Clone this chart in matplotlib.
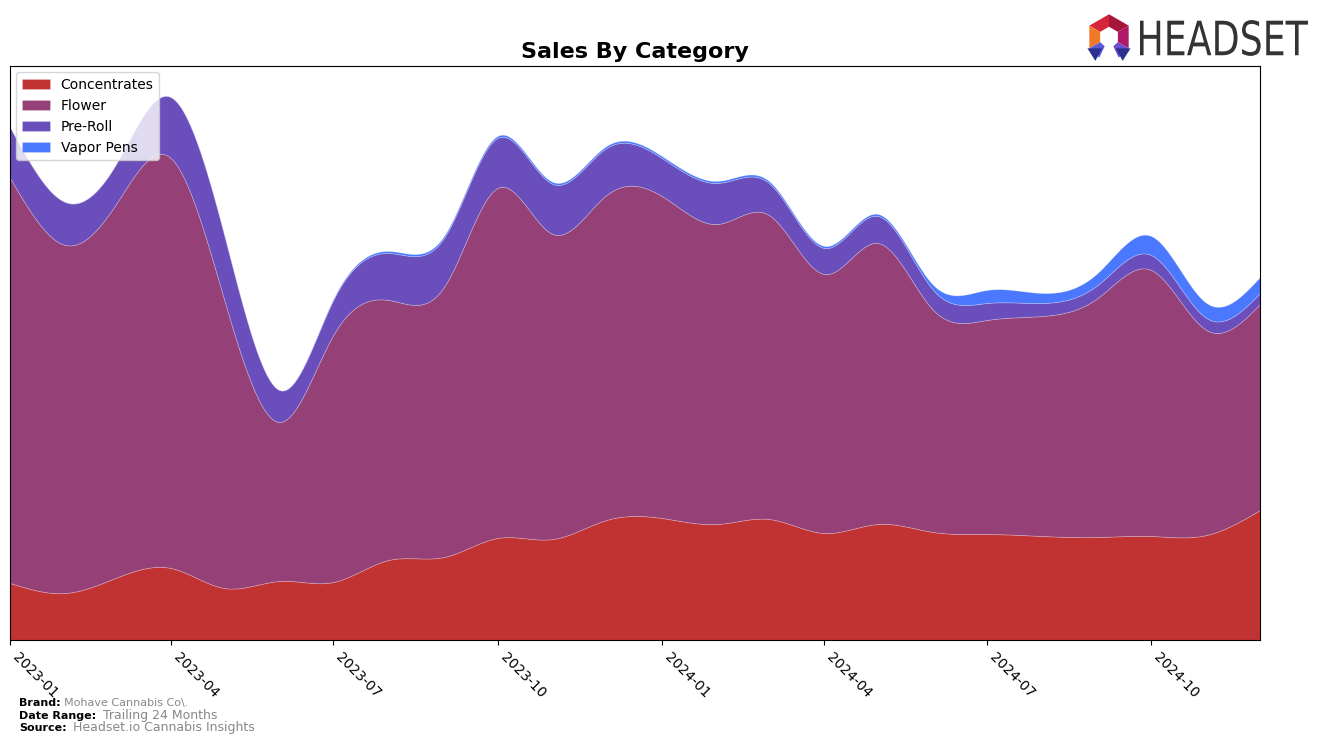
import numpy as np
import pandas as pd
import matplotlib
matplotlib.use("Agg")
import matplotlib.pyplot as plt
import matplotlib.dates as mdates
from matplotlib.textpath import TextPath
from matplotlib.patches import PathPatch, Polygon
from matplotlib.font_manager import FontProperties
from matplotlib.transforms import Affine2D

# ---------------- data ----------------
months = pd.date_range("2023-01-01", periods=24, freq="MS")
categories = ["Concentrates", "Flower", "Pre-Roll", "Vapor Pens"]
concentrates = [57, 47, 62, 72, 52, 59, 58, 80, 83, 102, 101, 120,
                122, 116, 121, 107, 116, 108, 106, 104, 103, 104, 105, 130]
flower = [405, 348, 373, 410, 288, 159, 247, 260, 270, 350, 305, 325,
          322, 300, 304, 259, 281, 222, 214, 220, 239, 266, 205, 206]
pre_roll = [51, 43, 40, 61, 65, 32, 35, 47, 49, 50, 50, 47,
            38, 41, 32, 26, 27, 20, 17, 13, 13, 15, 12, 11]
vapor_pens = [0, 0, 0, 0, 0, 0, 1, 2, 2, 2, 2, 2,
              2, 2, 2, 2, 2, 5, 13, 10, 12, 19, 15, 16]
colors = ["#C13232", "#954077", "#6A4EBB", "#4A78FF"]


def natural_spline(x, y, xs):
    x = np.asarray(x, float)
    y = np.asarray(y, float)
    n = len(x)
    h = np.diff(x)
    A = np.zeros((n, n))
    b = np.zeros(n)
    A[0, 0] = 1
    A[-1, -1] = 1
    for i in range(1, n - 1):
        A[i, i - 1] = h[i - 1]
        A[i, i] = 2 * (h[i - 1] + h[i])
        A[i, i + 1] = h[i]
        b[i] = 3 * ((y[i + 1] - y[i]) / h[i] - (y[i] - y[i - 1]) / h[i - 1])
    c = np.linalg.solve(A, b)
    idx = np.clip(np.searchsorted(x, xs) - 1, 0, n - 2)
    dx = xs - x[idx]
    bb = (y[idx + 1] - y[idx]) / h[idx] - h[idx] * (2 * c[idx] + c[idx + 1]) / 3
    d = (c[idx + 1] - c[idx]) / (3 * h[idx])
    return y[idx] + bb * dx + c[idx] * dx ** 2 + d * dx ** 3


xnum = mdates.date2num(months)
xs = np.linspace(xnum[0], xnum[-1], 800)
series = [concentrates, flower, pre_roll, vapor_pens]
smooth = [np.clip(natural_spline(xnum, s, xs), 0, None) for s in series]

W, H = 1324, 745
fig = plt.figure(figsize=(W / 100, H / 100), dpi=100)
ax = fig.add_axes([10 / W, 1 - 640 / H, 1250 / W, 574 / H])

ax.stackplot(xs, *smooth, labels=categories, colors=colors,
             linewidth=0.6, edgecolor=(1, 1, 1, 0.25))

ax.set_xlim(xnum[0], xnum[-1])
ax.set_ylim(0, 574)
ax.set_yticks([])
ax.xaxis.set_major_locator(mdates.MonthLocator(bymonth=[1, 4, 7, 10]))
ax.xaxis.set_major_formatter(mdates.DateFormatter("%Y-%m"))
for lab in ax.get_xticklabels():
    lab.set_rotation(-45)
    lab.set_ha("left")
    lab.set_fontsize(10)

ax.set_title("Sales By Category", fontsize=16, fontweight="bold", pad=6)
ax.legend(loc="upper left", fontsize=10, framealpha=0.8, borderaxespad=0.45)

# footer
fig.text(19 / W, 1 - 703 / H, "Brand:", fontsize=8, fontweight="bold", va="center")
fig.text(64 / W, 1 - 703 / H, "Mohave Cannabis Co\\.", fontsize=8, color="#888888", va="center")
fig.text(19 / W, 1 - 716 / H, "Date Range:", fontsize=8, fontweight="bold", va="center")
fig.text(103 / W, 1 - 716 / H, "Trailing 24 Months", fontsize=9, color="#888888", va="center")
fig.text(19 / W, 1 - 728 / H, "Source:", fontsize=8, fontweight="bold", va="center")
fig.text(73 / W, 1 - 728 / H, "Headset.io Cannabis Insights", fontsize=9, color="#888888", va="center")

# logo text
lax = fig.add_axes([1140 / W, 1 - 57 / H, 168 / W, 38 / H])
lax.set_axis_off()
tp = TextPath((0, 0), "HEADSET", size=10, prop=FontProperties(family="DejaVu Sans"))
bb = tp.get_extents()
tr = Affine2D().translate(-bb.x0, -bb.y0).scale(1 / bb.width, 1 / bb.height)
lax.add_patch(PathPatch(tr.transform_path(tp), color="#333333", lw=0))
lax.set_xlim(0, 1)
lax.set_ylim(-0.03, 1.03)

# logo icon
iax = fig.add_axes([1084 / W, 1 - 62 / H, 50 / W, 50 / H])
iax.set_axis_off()
iax.set_xlim(-1.1, 1.1)
iax.set_ylim(-1.1, 1.1)


def ring_seg(a0, a1, r0=0.45, r1=1.0):
    a0, a1 = np.radians(a0), np.radians(a1)
    return [(r1 * np.cos(a0), r1 * np.sin(a0)), (r1 * np.cos(a1), r1 * np.sin(a1)),
            (r0 * np.cos(a1), r0 * np.sin(a1)), (r0 * np.cos(a0), r0 * np.sin(a0))]

segs = [(-30, 30, "#B0186A"), (30, 90, "#A5163A"), (90, 150, "#D4263A"),
        (150, 210, "#F07A2A"), (210, 245, "#5B5BD6"), (-65, -30, "#6A4FD0")]
for a0, a1, c in segs:
    iax.add_patch(Polygon(ring_seg(a0, a1), closed=True, color=c, lw=0))
iax.add_patch(Polygon([(-0.95, -0.5), (-0.3, -0.5), (-0.6, -1.05)], color="#2B2F8F", lw=0))
iax.add_patch(Polygon([(0.95, -0.5), (0.3, -0.5), (0.6, -1.05)], color="#2B2F8F", lw=0))

fig.savefig("out.png", dpi=100)
